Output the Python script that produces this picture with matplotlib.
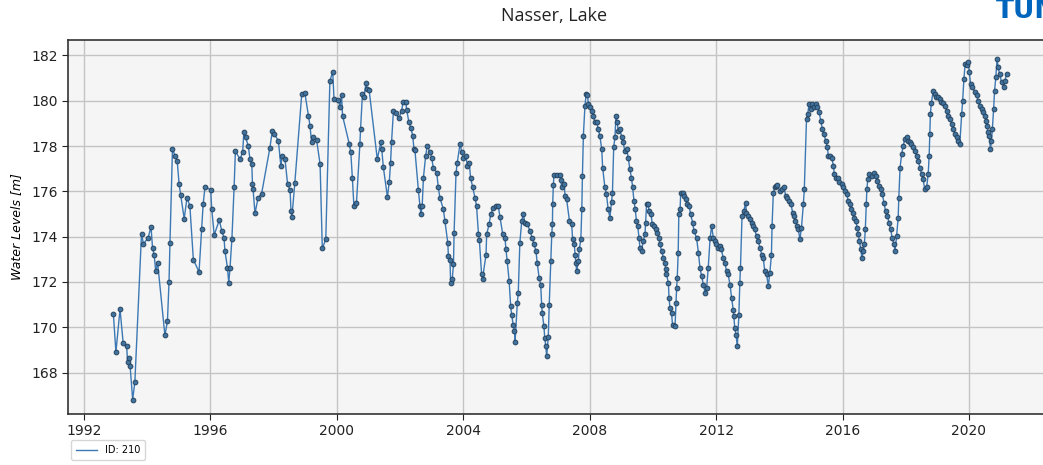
import matplotlib
matplotlib.use("Agg")
import matplotlib.pyplot as plt

# Nasser Lake water level time series (decimal year, metres)
years = [
    1992.93, 1993.01, 1993.14, 1993.24, 1993.35, 1993.38, 1993.42, 1993.46, 1993.54, 1993.61,
    1993.82, 1993.88, 1994.03, 1994.12, 1994.17, 1994.22, 1994.27, 1994.33, 1994.56, 1994.64,
    1994.69, 1994.72, 1994.80, 1994.88, 1994.95, 1995.01, 1995.06, 1995.17, 1995.26, 1995.35,
    1995.46, 1995.64, 1995.72, 1995.77, 1995.83, 1996.01, 1996.04, 1996.12, 1996.28, 1996.36,
    1996.43, 1996.46, 1996.54, 1996.58, 1996.62, 1996.68, 1996.75, 1996.79, 1996.94, 1997.02,
    1997.06, 1997.11, 1997.20, 1997.25, 1997.31, 1997.33, 1997.35, 1997.41, 1997.51, 1997.62,
    1997.88, 1997.96, 1998.02, 1998.15, 1998.23, 1998.27, 1998.36, 1998.44, 1998.52, 1998.55,
    1998.58, 1998.67, 1998.89, 1998.99, 1999.10, 1999.15, 1999.20, 1999.26, 1999.36, 1999.47,
    1999.54, 1999.65, 1999.78, 1999.87, 1999.91, 2000.05, 2000.10, 2000.15, 2000.18, 2000.39,
    2000.44, 2000.49, 2000.54, 2000.62, 2000.73, 2000.75, 2000.81, 2000.86, 2000.92, 2000.96,
    2001.02, 2001.28, 2001.39, 2001.42, 2001.47, 2001.60, 2001.66, 2001.70, 2001.73, 2001.79,
    2001.86, 2001.97, 2002.05, 2002.10, 2002.18, 2002.21, 2002.28, 2002.34, 2002.40, 2002.44,
    2002.47, 2002.58, 2002.63, 2002.66, 2002.70, 2002.74, 2002.81, 2002.86, 2002.95, 2003.00,
    2003.05, 2003.16, 2003.21, 2003.26, 2003.37, 2003.42, 2003.51, 2003.53, 2003.58, 2003.60,
    2003.65, 2003.69, 2003.71, 2003.77, 2003.81, 2003.90, 2003.95, 2004.00, 2004.08, 2004.13,
    2004.19, 2004.23, 2004.30, 2004.37, 2004.42, 2004.48, 2004.51, 2004.58, 2004.61, 2004.72,
    2004.74, 2004.82, 2004.87, 2004.95, 2005.04, 2005.11, 2005.16, 2005.25, 2005.32, 2005.35,
    2005.39, 2005.45, 2005.50, 2005.53, 2005.58, 2005.62, 2005.64, 2005.71, 2005.74, 2005.79,
    2005.85, 2005.90, 2005.95, 2006.03, 2006.11, 2006.18, 2006.24, 2006.30, 2006.34, 2006.40,
    2006.45, 2006.48, 2006.50, 2006.55, 2006.58, 2006.61, 2006.64, 2006.69, 2006.72, 2006.77,
    2006.80, 2006.82, 2006.83, 2006.85, 2006.87, 2006.95, 2007.06, 2007.09, 2007.11, 2007.19,
    2007.22, 2007.27, 2007.36, 2007.43, 2007.46, 2007.51, 2007.54, 2007.56, 2007.59, 2007.64,
    2007.67, 2007.72, 2007.75, 2007.77, 2007.80, 2007.85, 2007.89, 2007.93, 2007.96, 2008.01,
    2008.06, 2008.11, 2008.17, 2008.22, 2008.27, 2008.32, 2008.38, 2008.41, 2008.48, 2008.53,
    2008.58, 2008.64, 2008.69, 2008.72, 2008.76, 2008.80, 2008.83, 2008.87, 2008.90, 2008.96,
    2009.01, 2009.06, 2009.11, 2009.17, 2009.22, 2009.27, 2009.32, 2009.36, 2009.40, 2009.44,
    2009.48, 2009.52, 2009.56, 2009.59, 2009.64, 2009.69, 2009.75, 2009.77, 2009.80, 2009.85,
    2009.88, 2009.94, 2009.98, 2010.03, 2010.09, 2010.14, 2010.19, 2010.22, 2010.28, 2010.33,
    2010.38, 2010.41, 2010.43, 2010.49, 2010.51, 2010.54, 2010.59, 2010.62, 2010.70, 2010.73,
    2010.75, 2010.77, 2010.80, 2010.82, 2010.86, 2010.88, 2010.94, 2010.99, 2011.05, 2011.09,
    2011.15, 2011.19, 2011.26, 2011.30, 2011.38, 2011.44, 2011.49, 2011.54, 2011.60, 2011.65,
    2011.70, 2011.75, 2011.81, 2011.86, 2011.91, 2011.96, 2012.01, 2012.07, 2012.12, 2012.17,
    2012.22, 2012.28, 2012.33, 2012.38, 2012.44, 2012.49, 2012.54, 2012.56, 2012.59, 2012.63,
    2012.67, 2012.72, 2012.75, 2012.77, 2012.82, 2012.88, 2012.93, 2012.96, 2013.01, 2013.07,
    2013.12, 2013.17, 2013.22, 2013.28, 2013.33, 2013.39, 2013.44, 2013.49, 2013.54, 2013.60,
    2013.65, 2013.70, 2013.75, 2013.77, 2013.81, 2013.86, 2013.91, 2013.94, 2014.01, 2014.09,
    2014.15, 2014.20, 2014.25, 2014.31, 2014.37, 2014.42, 2014.46, 2014.51, 2014.57, 2014.60,
    2014.65, 2014.70, 2014.76, 2014.79, 2014.86, 2014.90, 2014.94, 2014.99, 2015.04, 2015.10,
    2015.15, 2015.20, 2015.26, 2015.31, 2015.36, 2015.41, 2015.47, 2015.52, 2015.55, 2015.61,
    2015.66, 2015.71, 2015.74, 2015.80, 2015.85, 2015.90, 2015.97, 2016.02, 2016.08, 2016.13,
    2016.18, 2016.23, 2016.27, 2016.32, 2016.36, 2016.41, 2016.47, 2016.50, 2016.53, 2016.58,
    2016.61, 2016.66, 2016.69, 2016.72, 2016.75, 2016.77, 2016.80, 2016.85, 2016.93, 2017.00,
    2017.05, 2017.10, 2017.15, 2017.21, 2017.26, 2017.31, 2017.36, 2017.42, 2017.47, 2017.52,
    2017.57, 2017.63, 2017.66, 2017.71, 2017.76, 2017.78, 2017.82, 2017.87, 2017.92, 2017.97,
    2018.03, 2018.08, 2018.13, 2018.18, 2018.23, 2018.29, 2018.34, 2018.39, 2018.45, 2018.50,
    2018.55, 2018.60, 2018.66, 2018.71, 2018.74, 2018.76, 2018.78, 2018.81, 2018.87, 2018.92,
    2018.97, 2019.02, 2019.08, 2019.13, 2019.18, 2019.24, 2019.29, 2019.34, 2019.40, 2019.45,
    2019.50, 2019.56, 2019.61, 2019.66, 2019.71, 2019.77, 2019.80, 2019.84, 2019.88, 2019.93,
    2019.98, 2020.01, 2020.05, 2020.11, 2020.19, 2020.24, 2020.29, 2020.34, 2020.40, 2020.45,
    2020.50, 2020.55, 2020.57, 2020.60, 2020.64, 2020.68, 2020.71, 2020.74, 2020.78, 2020.81,
    2020.85, 2020.89, 2020.92, 2020.97, 2021.03, 2021.10, 2021.14, 2021.19,
]

levels = [
    170.58, 168.90, 170.80, 169.30, 169.15, 168.45, 168.66, 168.27, 166.80, 167.60,
    174.13, 173.68, 173.95, 174.44, 173.48, 173.20, 172.47, 172.84, 169.64, 170.26,
    172.00, 173.73, 177.87, 177.57, 177.32, 176.31, 175.84, 174.79, 175.72, 175.35,
    172.99, 172.44, 174.32, 175.43, 176.21, 176.06, 175.24, 174.07, 174.73, 174.25,
    173.95, 173.36, 172.62, 171.96, 172.62, 173.91, 176.21, 177.76, 177.42, 177.75,
    178.63, 178.38, 178.01, 177.42, 177.20, 176.31, 176.09, 175.03, 175.72, 175.90,
    177.91, 178.68, 178.53, 178.23, 177.10, 177.57, 177.42, 176.34, 176.06, 175.13,
    174.88, 176.36, 180.30, 180.33, 179.34, 178.90, 178.16, 178.38, 178.26, 177.20,
    173.48, 173.88, 180.89, 181.26, 180.08, 180.04, 179.71, 180.23, 179.34, 178.11,
    177.75, 176.61, 175.35, 175.47, 178.11, 178.75, 180.30, 180.15, 180.77, 180.52,
    180.48, 177.42, 178.16, 177.87, 177.08, 175.75, 176.43, 177.27, 178.16, 179.53,
    179.44, 179.24, 179.56, 179.96, 179.93, 179.59, 179.05, 178.80, 178.46, 177.87,
    177.82, 176.05, 175.35, 174.99, 175.35, 176.61, 177.57, 178.01, 177.72, 177.49,
    177.05, 176.83, 176.17, 175.72, 175.21, 174.69, 173.73, 173.14, 172.99, 171.96,
    172.11, 172.77, 174.17, 176.79, 177.27, 178.11, 177.72, 177.49, 177.57, 177.13,
    177.27, 176.61, 176.17, 175.72, 175.35, 174.13, 173.83, 172.33, 172.15, 173.21,
    174.10, 174.57, 174.99, 175.28, 175.35, 175.35, 174.87, 174.10, 173.95, 173.44,
    172.92, 172.06, 170.92, 170.56, 170.11, 169.82, 169.37, 171.07, 171.51, 173.73,
    174.69, 175.01, 174.61, 174.54, 174.25, 173.95, 173.66, 173.36, 172.84, 172.18,
    171.88, 170.97, 170.63, 170.04, 169.52, 169.15, 168.71, 169.59, 171.00, 172.92,
    174.10, 174.54, 175.46, 176.27, 176.73, 176.73, 176.73, 176.49, 176.17, 176.34,
    175.80, 175.65, 174.69, 174.54, 173.88, 173.66, 173.21, 172.84, 172.47, 172.92,
    173.44, 173.88, 175.21, 176.68, 178.46, 179.78, 180.30, 180.23, 179.86, 179.71,
    179.56, 179.34, 179.05, 179.05, 178.75, 178.46, 177.87, 177.05, 176.17, 175.90,
    175.24, 174.84, 175.53, 175.94, 177.97, 178.38, 179.34, 179.05, 178.68, 178.75,
    178.38, 178.16, 177.79, 177.87, 177.49, 176.98, 176.61, 176.17, 175.58, 175.21,
    174.69, 174.47, 173.95, 173.51, 173.36, 173.80, 174.10, 174.61, 175.43, 175.43,
    175.13, 174.99, 174.54, 174.47, 174.32, 174.17, 173.95, 173.66, 173.36, 173.06,
    172.84, 172.55, 172.33, 171.96, 171.29, 170.85, 170.63, 170.11, 170.04, 171.07,
    171.73, 172.18, 173.29, 174.99, 175.21, 175.94, 175.94, 175.80, 175.65, 175.43,
    175.35, 174.99, 174.61, 174.25, 173.95, 173.29, 172.62, 172.25, 171.88, 171.51,
    171.73, 172.62, 173.95, 174.47, 173.95, 173.80, 173.66, 173.51, 173.58, 173.44,
    173.06, 172.84, 172.47, 172.33, 171.88, 171.29, 170.78, 170.48, 169.96, 169.67,
    169.15, 170.56, 171.96, 172.62, 174.91, 175.13, 175.50, 175.06, 174.91, 174.76,
    174.61, 174.47, 174.32, 174.02, 173.80, 173.51, 173.21, 173.06, 172.47, 172.33,
    171.81, 172.40, 173.21, 174.47, 175.94, 176.17, 176.24, 176.29, 176.02, 176.09,
    176.17, 175.80, 175.72, 175.58, 175.43, 175.06, 174.91, 174.69, 174.47, 174.32,
    173.88, 174.39, 175.43, 176.09, 179.20, 179.42, 179.86, 179.64, 179.86, 179.71,
    179.86, 179.71, 179.49, 179.12, 178.75, 178.53, 178.23, 177.94, 177.57, 177.57,
    177.49, 177.13, 176.76, 176.61, 176.61, 176.39, 176.31, 176.17, 176.02, 175.87,
    175.58, 175.43, 175.21, 175.06, 174.84, 174.69, 174.39, 174.10, 173.80, 173.44,
    173.06, 173.36, 173.66, 174.32, 175.43, 176.09, 176.54, 176.76, 176.68, 176.83,
    176.68, 176.46, 176.24, 176.09, 175.87, 175.50, 175.13, 174.91, 174.61, 174.32,
    173.95, 173.66, 173.36, 174.02, 174.84, 175.72, 177.05, 177.64, 178.01, 178.31,
    178.38, 178.23, 178.16, 178.09, 177.94, 177.79, 177.57, 177.35, 177.05, 176.76,
    176.54, 176.09, 176.17, 176.76, 177.57, 178.53, 179.42, 179.90, 180.45, 180.30,
    180.15, 180.15, 180.08, 179.93, 179.90, 179.78, 179.56, 179.34, 179.20, 178.97,
    178.75, 178.53, 178.38, 178.23, 178.09, 179.42, 180.00, 180.97, 181.63, 181.56,
    181.70, 181.26, 180.75, 180.60, 180.38, 180.23, 180.00, 179.78, 179.64, 179.49,
    179.34, 179.12, 178.90, 178.60, 178.46, 177.87, 178.23, 178.75, 179.64, 180.45,
    181.04, 181.85, 181.48, 181.19, 180.82, 180.60, 180.89, 181.19,
]

year_ticks = [1992, 1996, 2000, 2004, 2008, 2012, 2016, 2020]
level_ticks = [168, 170, 172, 174, 176, 178, 180, 182]

W, H = 1043, 465
fig = plt.figure(figsize=(W / 100, H / 100), dpi=100)

# axes run off the right edge of the canvas
ax = fig.add_axes([68 / W, 1 - 414 / H, 992 / W, 374 / H])
ax.set_facecolor("#f5f5f5")

(line,) = ax.plot(
    years, levels, color="#3c78b4", linewidth=1.0,
    marker="o", markersize=3.4, markerfacecolor="#41739f",
    markeredgecolor="#27445f", markeredgewidth=0.7, label="ID: 210",
)

ax.set_xlim(1991.494, 2022.88)
ax.set_ylim(166.17, 182.68)
ax.set_xticks(year_ticks)
ax.set_xticklabels([str(y) for y in year_ticks])
ax.set_yticks(level_ticks)
ax.tick_params(labelsize=10, colors="#222222", length=4)
ax.grid(True, color="#c4c4c4", linewidth=1.0)
ax.set_axisbelow(True)
for s in ax.spines.values():
    s.set_color("#333333")
    s.set_linewidth(1.2)

ax.set_ylabel("Water Levels [m]", fontsize=9, fontstyle="italic", labelpad=6)

fig.text(554 / W, 1 - 16 / H, "Nasser, Lake", ha="center", va="center",
         fontsize=13, family="Open Sans", color="#222222")

# logo lettering in the top right corner, clipped by the border
fig.text(996 / W, 1 - 11 / H, "TUM", ha="left", va="center", fontsize=19,
         fontweight="bold", family="Liberation Sans Narrow", color="#0065bd")

fig.legend(handles=[line], labels=["ID: 210"], loc="lower left",
           bbox_to_anchor=(66 / W, 0.0), fontsize=7, frameon=True,
           handlelength=2.2, borderpad=0.5, edgecolor="#cccccc", fancybox=True,
           markerscale=0)

fig.savefig("out.png", dpi=100)
